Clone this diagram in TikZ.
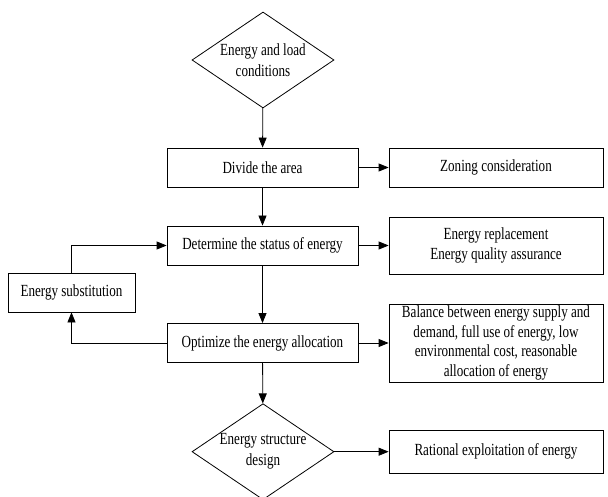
\documentclass[tikz,border=0pt]{standalone}
\usepackage{fontspec}
\setmainfont[FakeStretch=0.77]{Liberation Serif}
\usetikzlibrary{arrows.meta,shapes.geometric}

\tikzset{
  box/.style={rectangle,draw,line width=0.8pt,minimum width=191pt,
    minimum height=39pt,inner sep=0pt,align=center,
    font=\fontsize{17}{19.5}\selectfont},
  sidebox/.style={box,minimum width=214pt},
  decide/.style={diamond,draw,line width=0.8pt,aspect=1.48,
    minimum width=142pt,minimum height=96pt,inner sep=0pt,align=center,
    font=\fontsize{17}{21}\selectfont},
  arr/.style={-{Triangle[length=10pt,width=8pt]},line width=0.8pt}
}

\begin{document}
\begin{tikzpicture}[x=1pt,y=-1pt]
\useasboundingbox (0,0) rectangle (608,497);

% main column
\node[decide] (cond) at (263,60) {Energy and load\\conditions};
\node[box] (divide) at (262.5,167.5) {Divide the area};
\node[box] (status) at (262.5,245.5) {Determine the status of energy};
\node[box] (optim) at (262.5,343) {Optimize the energy allocation};
\node[decide] (design) at (263,451.7) {Energy structure\\design};

% right column
\node[sidebox] (zoning) at (496,167.5) {Zoning consideration};
\node[sidebox,minimum height=57pt] (replace) at (496,245.5)
  {Energy replacement\\Energy quality assurance};
\node[sidebox,minimum height=78pt] (balance) at (496,343)
  {Balance between energy supply and\\demand, full use of energy, low\\
   environmental cost, reasonable\\allocation of energy};
\node[sidebox,minimum height=43pt] (rational) at (496,451.5)
  {Rational exploitation of energy};

% left feedback
\node[box,minimum width=127pt] (subst) at (71.5,292.5) {Energy substitution};

\draw[arr] (cond) -- (divide);
\draw[arr] (divide) -- (status);
\draw[arr] (status) -- (optim);
\draw[arr] (optim) -- (design);
\draw[arr] (divide) -- (zoning);
\draw[arr] (status) -- (replace);
\draw[arr] (optim) -- (balance);
\draw[arr] (design.east) -- (design.east -| rational.west);
\draw[arr] (subst.north) |- (status.west);
\draw[arr] (optim.west) -| (subst.south);
\end{tikzpicture}
\end{document}
